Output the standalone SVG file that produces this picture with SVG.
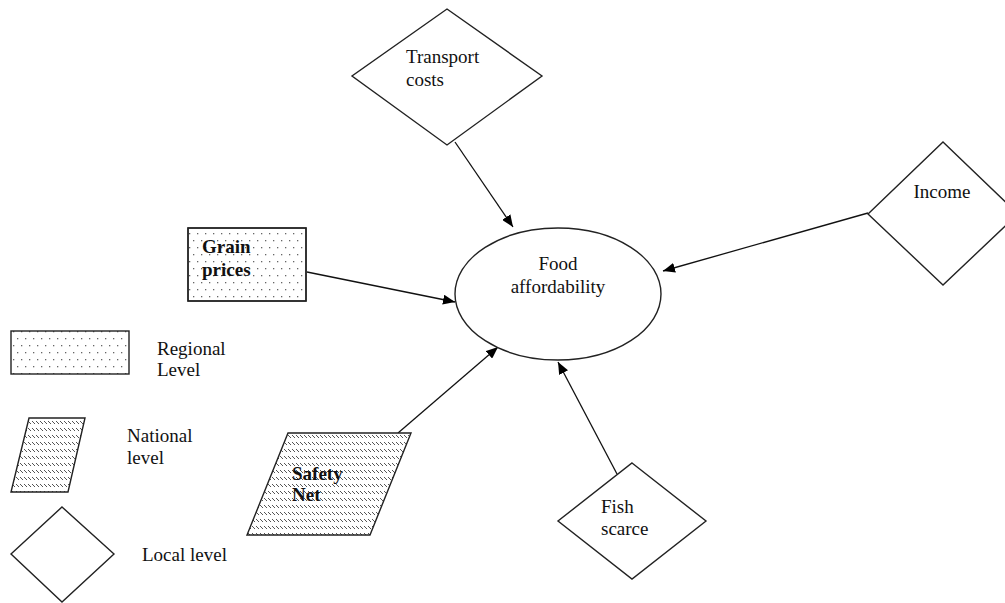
<svg xmlns="http://www.w3.org/2000/svg" width="1005" height="603" viewBox="0 0 1005 603">
<defs>
<pattern id="dots" width="8" height="14" patternUnits="userSpaceOnUse">
<rect x="1" y="2" width="1.3" height="1.3" fill="#666"/>
<rect x="5" y="9" width="1.3" height="1.3" fill="#666"/>
</pattern>
<pattern id="hatch" width="4" height="7" patternUnits="userSpaceOnUse">
<line x1="0" y1="1" x2="3" y2="4" stroke="#555" stroke-width="1"/>
</pattern>
<marker id="arr" viewBox="0 0 12 10" refX="12" refY="5" markerWidth="12" markerHeight="10" markerUnits="userSpaceOnUse" orient="auto">
<path d="M0,0 L12,5 L0,10 z" fill="#000"/>
</marker>
<style>
.s{fill:#fff;stroke:#222;stroke-width:1.4}
.t{font-family:"Liberation Serif","Times New Roman",serif;font-size:19px;fill:#111}
.b{font-weight:bold}
.c{stroke:#111;stroke-width:1.3;fill:none;marker-end:url(#arr)}
</style>
</defs>
<rect width="1005" height="603" fill="#fff"/>
<g id="connectors">
<line class="c" x1="455" y1="142" x2="513" y2="227"/>
<line class="c" x1="868" y1="213" x2="663" y2="271"/>
<line class="c" x1="307" y1="272" x2="455" y2="302"/>
<line class="c" x1="398" y1="433" x2="498" y2="347"/>
<line class="c" x1="617" y1="474" x2="558" y2="362"/>
</g>
<g id="food-affordability">
<ellipse class="s" cx="558" cy="294" rx="103" ry="66"/>
<text class="t" x="558" y="270" text-anchor="middle">Food</text>
<text class="t" x="558" y="293" text-anchor="middle">affordability</text>
</g>
<g id="transport-costs">
<polygon class="s" points="447,9 542,76 447,145 352,76"/>
<text class="t" x="406" y="63">Transport</text>
<text class="t" x="406" y="86">costs</text>
</g>
<g id="income">
<polygon class="s" points="943,142 1018,214 943,285 868,214"/>
<text class="t" x="942" y="198" text-anchor="middle">Income</text>
</g>
<g id="grain-prices">
<rect x="188" y="228" width="118" height="73" fill="#fff" stroke="#222" stroke-width="1.4"/>
<rect x="188" y="228" width="118" height="73" fill="url(#dots)" stroke="#222" stroke-width="1.4"/>
<text class="t b" x="202" y="253">Grain</text>
<text class="t b" x="202" y="276">prices</text>
</g>
<g id="safety-net">
<polygon points="288,433 411,433 370,535 247,535" fill="#fff"/>
<polygon points="288,433 411,433 370,535 247,535" fill="url(#hatch)" stroke="#222" stroke-width="1.4"/>
<text class="t b" x="292" y="480">Safety</text>
<text class="t b" x="292" y="501">Net</text>
</g>
<g id="fish-scarce">
<polygon class="s" points="632,463 706,521 632,579 558,521"/>
<text class="t" x="601" y="513">Fish</text>
<text class="t" x="601" y="535">scarce</text>
</g>
<g id="legend-regional">
<rect x="11" y="331" width="118" height="43" fill="url(#dots)" stroke="#222" stroke-width="1.4"/>
<text class="t" x="157" y="355">Regional</text>
<text class="t" x="157" y="376">Level</text>
</g>
<g id="legend-national">
<polygon points="29,418 85,418 68,492 11,492" fill="url(#hatch)" stroke="#222" stroke-width="1.4"/>
<text class="t" x="127" y="442">National</text>
<text class="t" x="127" y="464">level</text>
</g>
<g id="legend-local">
<polygon class="s" points="62,507 114,554 62,602 11,554"/>
<text class="t" x="142" y="561">Local level</text>
</g>
</svg>
